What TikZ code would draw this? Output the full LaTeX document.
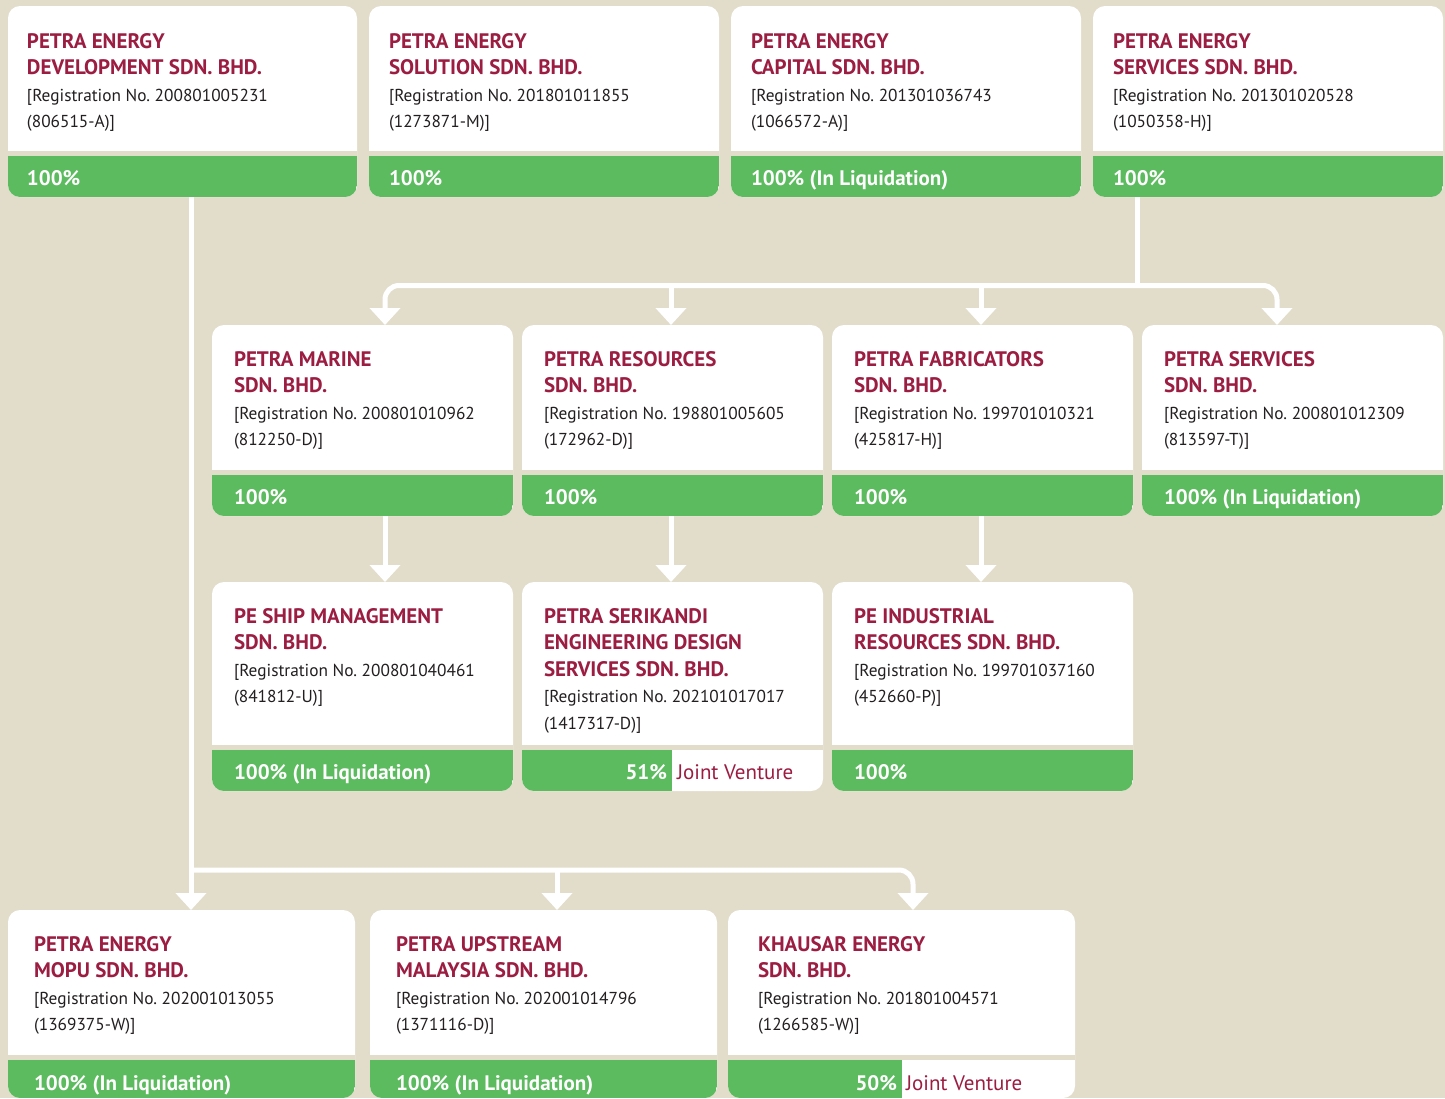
\documentclass[tikz,border=0pt]{standalone}
\usepackage{fontspec}
\setmainfont{PT Sans}
\usetikzlibrary{arrows.meta}
\frenchspacing
\definecolor{bgc}{HTML}{E2DCCA}
\definecolor{pegreen}{HTML}{5CBB5F}
\definecolor{titlered}{HTML}{9C1D42}
\definecolor{regtext}{HTML}{231F20}
\newcommand\orgtitle{\fontsize{21}{26.5}\selectfont\bfseries\color{titlered}}
\newcommand\orgreg{\fontsize{17.3}{26.5}\selectfont\mdseries\color{regtext}}
\newcommand\orgtext[1]{\parbox[t]{330pt}{\raggedright\frenchspacing\leavevmode #1}}
\tikzset{
  orgbox/.style={fill=white, rounded corners=12pt, inner sep=0pt, outer sep=0pt, anchor=north west,
    path picture={
      \fill[pegreen, sharp corners] (path picture bounding box.south west) rectangle ([yshift=#1]path picture bounding box.south east);
      \fill[bgc, sharp corners] ([yshift=#1]path picture bounding box.south west) rectangle ([yshift=#1+5pt]path picture bounding box.south east);
    }},
  orgbox/.default=41pt,
  jvbox/.style 2 args={fill=white, rounded corners=12pt, inner sep=0pt, outer sep=0pt, anchor=north west,
    path picture={
      \fill[pegreen, sharp corners] (path picture bounding box.south west) rectangle ([xshift=#2, yshift=#1]path picture bounding box.south west);
      \fill[bgc, sharp corners] ([yshift=#1]path picture bounding box.south west) rectangle ([yshift=#1+5pt]path picture bounding box.south east);
    }},
  txt/.style={anchor=base west, inner sep=0pt, outer sep=0pt},
  pct/.style={anchor=base west, inner sep=0pt, outer sep=0pt, text=white, font=\fontsize{21}{24}\selectfont\bfseries},
  jvt/.style={anchor=base west, inner sep=0pt, outer sep=0pt, text=titlered, font=\fontsize{21}{24}\selectfont},
  conn/.style={draw=white, line width=5pt, -{Triangle[width=30pt,length=17pt]}},
  plainconn/.style={draw=white, line width=5pt},
}
\begin{document}
\begin{tikzpicture}[x=1pt,y=-1pt]
\fill[bgc] (0,0) rectangle (1445,1098);
\useasboundingbox (0,0) rectangle (1445,1098);
\clip (0,0) rectangle (1445,1098);

% boxes
\node[orgbox, minimum width=349pt, minimum height=191pt] (b1) at (8,6) {};
\node[orgbox, minimum width=350pt, minimum height=191pt] (b2) at (369,6) {};
\node[orgbox, minimum width=350pt, minimum height=191pt] (b3) at (731,6) {};
\node[orgbox, minimum width=350pt, minimum height=191pt] (b4) at (1093,6) {};
\node[orgbox, minimum width=301pt, minimum height=191pt] (b5) at (212,325) {};
\node[orgbox, minimum width=301pt, minimum height=191pt] (b6) at (522,325) {};
\node[orgbox, minimum width=301pt, minimum height=191pt] (b7) at (832,325) {};
\node[orgbox, minimum width=301pt, minimum height=191pt] (b8) at (1142,325) {};
\node[orgbox, minimum width=301pt, minimum height=209pt] (b9) at (212,582) {};
\node[jvbox={41pt}{150pt}, minimum width=301pt, minimum height=209pt] (b10) at (522,582) {};
\node[orgbox, minimum width=301pt, minimum height=209pt] (b11) at (832,582) {};
\node[orgbox=38pt, minimum width=347pt, minimum height=188pt] (b12) at (8,910) {};
\node[orgbox=38pt, minimum width=347pt, minimum height=188pt] (b13) at (370,910) {};
\node[jvbox={38pt}{174pt}, minimum width=347pt, minimum height=188pt] (b14) at (728,910) {};

% texts
\node[txt] (t1) at (27,48) {\orgtext{\orgtitle PETRA ENERGY\\DEVELOPMENT SDN. BHD.\\\orgreg [Registration No. 200801005231\\(806515-A)]}};
\node[txt] (t2) at (389,48) {\orgtext{\orgtitle PETRA ENERGY\\SOLUTION SDN. BHD.\\\orgreg [Registration No. 201801011855\\(1273871-M)]}};
\node[txt] (t3) at (751,48) {\orgtext{\orgtitle PETRA ENERGY\\CAPITAL SDN. BHD.\\\orgreg [Registration No. 201301036743\\(1066572-A)]}};
\node[txt] (t4) at (1113,48) {\orgtext{\orgtitle PETRA ENERGY\\SERVICES SDN. BHD.\\\orgreg [Registration No. 201301020528\\(1050358-H)]}};
\node[txt] (t5) at (234,366) {\orgtext{\orgtitle PETRA MARINE\\SDN. BHD.\\\orgreg [Registration No. 200801010962\\(812250-D)]}};
\node[txt] (t6) at (544,366) {\orgtext{\orgtitle PETRA RESOURCES\\SDN. BHD.\\\orgreg [Registration No. 198801005605\\(172962-D)]}};
\node[txt] (t7) at (854,366) {\orgtext{\orgtitle PETRA FABRICATORS\\SDN. BHD.\\\orgreg [Registration No. 199701010321\\(425817-H)]}};
\node[txt] (t8) at (1164,366) {\orgtext{\orgtitle PETRA SERVICES\\SDN. BHD.\\\orgreg [Registration No. 200801012309\\(813597-T)]}};
\node[txt] (t9) at (234,623) {\orgtext{\orgtitle PE SHIP MANAGEMENT\\SDN. BHD.\\\orgreg [Registration No. 200801040461\\(841812-U)]}};
\node[txt] (t10) at (544,623) {\orgtext{\orgtitle PETRA SERIKANDI\\ENGINEERING DESIGN\\SERVICES SDN. BHD.\\\orgreg [Registration No. 202101017017\\(1417317-D)]}};
\node[txt] (t11) at (854,623) {\orgtext{\orgtitle PE INDUSTRIAL\\RESOURCES SDN. BHD.\\\orgreg [Registration No. 199701037160\\(452660-P)]}};
\node[txt] (t12) at (34,951) {\orgtext{\orgtitle PETRA ENERGY\\MOPU SDN. BHD.\\\orgreg [Registration No. 202001013055\\(1369375-W)]}};
\node[txt] (t13) at (396,951) {\orgtext{\orgtitle PETRA UPSTREAM\\MALAYSIA SDN. BHD.\\\orgreg [Registration No. 202001014796\\(1371116-D)]}};
\node[txt] (t14) at (758,951) {\orgtext{\orgtitle KHAUSAR ENERGY\\SDN. BHD.\\\orgreg [Registration No. 201801004571\\(1266585-W)]}};

% percentages
\node[pct] (p1) at (27,185) {100\%};
\node[pct] (p2) at (389,185) {100\%};
\node[pct] (p3) at (751,185) {100\% (In Liquidation)};
\node[pct] (p4) at (1113,185) {100\%};
\node[pct] (p5) at (234,504) {100\%};
\node[pct] (p6) at (544,504) {100\%};
\node[pct] (p7) at (854,504) {100\%};
\node[pct] (p8) at (1164,504) {100\% (In Liquidation)};
\node[pct] (p9) at (234,779) {100\% (In Liquidation)};
\node[pct, anchor=base east] (p10) at (667,779) {51\%};
\node[jvt] (jv10) at (677,779) {Joint Venture};
\node[pct] (p11) at (854,779) {100\%};
\node[pct] (p12) at (34,1090) {100\% (In Liquidation)};
\node[pct] (p13) at (396,1090) {100\% (In Liquidation)};
\node[pct, anchor=base east] (p14) at (897,1090) {50\%};
\node[jvt] (jv14) at (906,1090) {Joint Venture};

% connectors
\coordinate (jA) at (191,870);
\coordinate (jB) at (1137,285.5);
\draw[conn] (191,0 |- b1.south) -- (191,0 |- b12.north);
\draw[conn, rounded corners=14pt] (jA) -- (913,870) -- (913,0 |- b14.north);
\draw[conn] (557,870) -- (557,0 |- b13.north);

\draw[plainconn] (1137,0 |- b4.south) -- (jB);
\draw[conn, rounded corners=14pt] (jB) -- (385,285.5) -- (385,0 |- b5.north);
\draw[conn, rounded corners=14pt] (jB) -- (1277,285.5) -- (1277,0 |- b8.north);
\draw[conn] (671,285.5) -- (671,0 |- b6.north);
\draw[conn] (981,285.5) -- (981,0 |- b7.north);

\draw[conn] (385,0 |- b5.south) -- (385,0 |- b9.north);
\draw[conn] (671,0 |- b6.south) -- (671,0 |- b10.north);
\draw[conn] (981,0 |- b7.south) -- (981,0 |- b11.north);
\end{tikzpicture}
\end{document}
